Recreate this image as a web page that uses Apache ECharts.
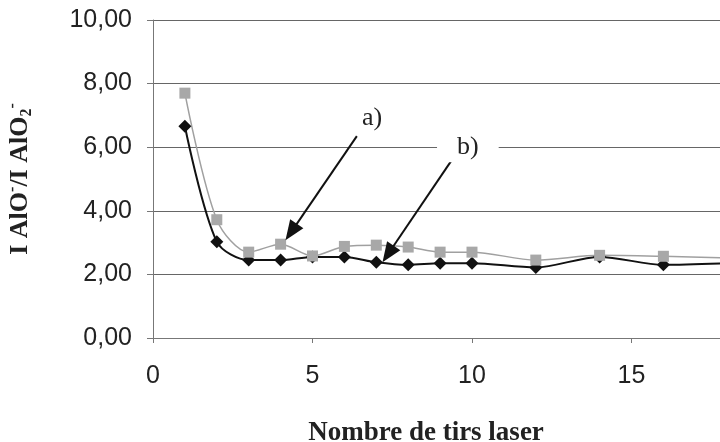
<!DOCTYPE html>
<html>
<head>
<meta charset="utf-8">
<script src="https://cdn.jsdelivr.net/npm/echarts@6/dist/echarts.min.js"></script>
<style>html,body{margin:0;padding:0;background:#fff}#c{width:720px;height:442px}</style>
</head>
<body>
<div id="c"></div>
<script>
const shots = [1, 2, 3, 4, 5, 6, 7, 8, 9, 10, 12, 14, 16, 18];
const seriesA = [7.70, 3.72, 2.70, 2.95, 2.58, 2.88, 2.92, 2.86, 2.70, 2.70, 2.45, 2.60, 2.57, 2.52];
const seriesB = [6.66, 3.03, 2.45, 2.45, 2.55, 2.55, 2.38, 2.30, 2.35, 2.35, 2.22, 2.55, 2.30, 2.35];
const yTicks = [0, 2, 4, 6, 8, 10];
const xTicks = [0, 5, 10, 15, 20];
const arrowA = [[6.39, 6.35], [4.33, 3.33]];
const arrowB = [[9.37, 5.60], [7.37, 2.64]];
const labelA = [6.87, 6.92];
const labelB = [9.87, 6.0];

const pairs = (xs, ys) => xs.map((x, i) => [x, ys[i]]);
const chart = echarts.init(document.getElementById('c'));
const serif = '"Liberation Serif", "Times New Roman", serif';
const sans = '"Liberation Sans", Arial, sans-serif';

chart.setOption({
  animation: false,
  backgroundColor: '#fff',
  grid: { left: 153, top: 20, width: 638, height: 318, outerBoundsMode: 'none', containLabel: false },
  xAxis: {
    type: 'value', min: xTicks[0], max: xTicks[xTicks.length - 1], interval: 5,
    axisLine: { show: true, lineStyle: { color: '#777', width: 1 } },
    axisTick: { show: true, inside: false, length: 5, lineStyle: { color: '#777' } },
    splitLine: { show: false },
    axisLabel: { fontSize: 25, fontFamily: sans, color: '#222', margin: 26 },
    name: 'Nombre de tirs laser', nameLocation: 'middle', nameGap: 82,
    nameTextStyle: { fontFamily: serif, fontWeight: 'bold', fontSize: 27, color: '#222', padding: [0, 92, 0, 0] }
  },
  yAxis: {
    type: 'value', min: yTicks[0], max: yTicks[yTicks.length - 1], interval: 2,
    axisLine: { show: true, lineStyle: { color: '#777', width: 1 } },
    axisTick: { show: true, inside: false, length: 6, lineStyle: { color: '#777' } },
    splitLine: { show: true, lineStyle: { color: '#666', width: 1 } },
    axisLabel: { fontSize: 25, fontFamily: sans, color: '#222', margin: 21,
      formatter: v => v.toFixed(2).replace('.', ',') },
    name: '{m|I AlO}{sup|-}{m|/I AlO}{sub|2}{sup|-}',
    nameLocation: 'middle', nameRotate: 90, nameGap: 118,
    nameTextStyle: {
      rich: {
        m: { fontFamily: serif, fontWeight: 'bold', fontSize: 26, color: '#222', lineHeight: 30 },
        sup: { fontFamily: serif, fontWeight: 'bold', fontSize: 16, color: '#222', lineHeight: 16, verticalAlign: 'top' },
        sub: { fontFamily: serif, fontWeight: 'bold', fontSize: 16, color: '#222', lineHeight: 16, verticalAlign: 'bottom' }
      }
    }
  },
  series: [
    {
      type: 'line', name: 'b', data: pairs(shots, seriesB), smooth: 0.3,
      symbol: 'diamond', symbolSize: 13,
      lineStyle: { color: '#111', width: 2 },
      itemStyle: { color: '#111' }
    },
    {
      type: 'line', name: 'a', data: pairs(shots, seriesA), smooth: 0.3,
      symbol: 'rect', symbolSize: 11,
      lineStyle: { color: '#a0a0a0', width: 1.5 },
      itemStyle: { color: '#a8a8a8' },
      markLine: {
        silent: true, symbol: ['none', 'triangle'], symbolSize: [16, 20],
        lineStyle: { color: '#111', width: 2, type: 'solid' },
        label: { show: false },
        data: [
          [{ coord: arrowA[0] }, { coord: arrowA[1] }],
          [{ coord: arrowB[0] }, { coord: arrowB[1] }]
        ]
      },
      markPoint: {
        silent: true, symbol: 'circle', symbolSize: 1,
        itemStyle: { color: 'rgba(0,0,0,0)' },
        data: [
          { coord: labelA, label: { show: true, position: 'inside', formatter: 'a)', fontFamily: serif, fontSize: 26, color: '#222' } },
          { coord: labelB, label: { show: true, position: 'inside', formatter: 'b)', fontFamily: serif, fontSize: 26, color: '#222', backgroundColor: '#fff', padding: [2, 20] } }
        ]
      }
    }
  ]
});
</script>
</body>
</html>
